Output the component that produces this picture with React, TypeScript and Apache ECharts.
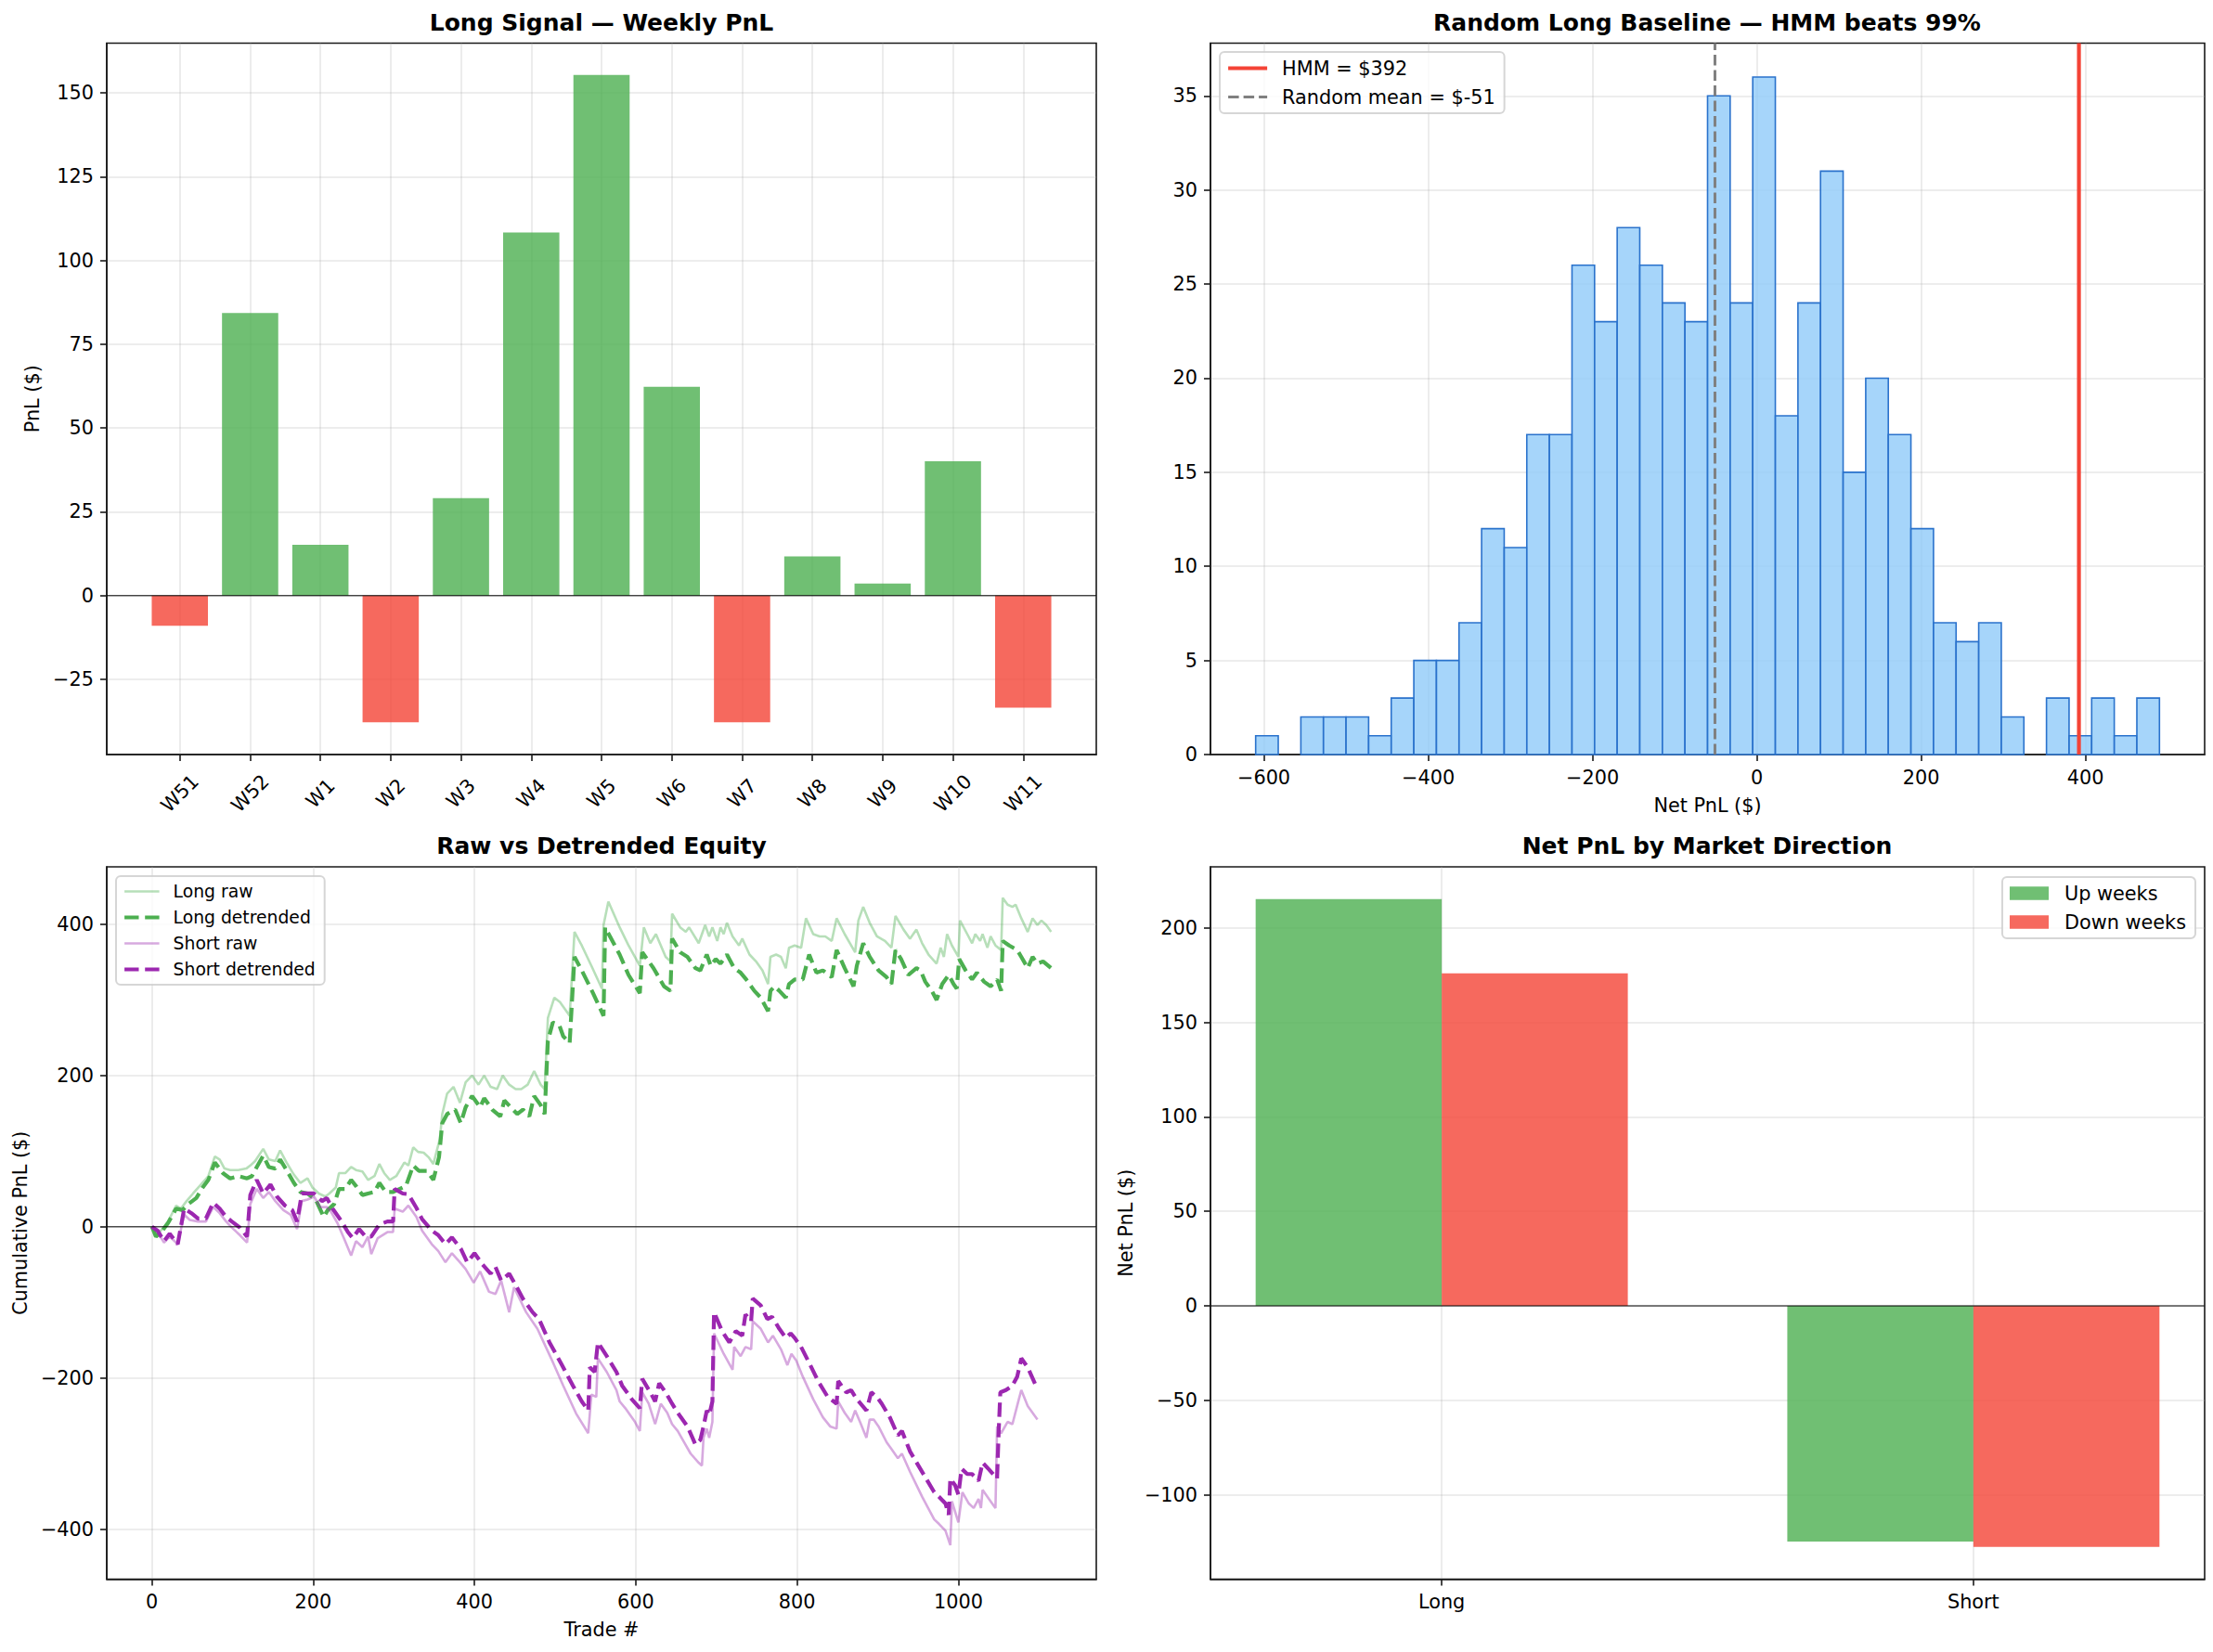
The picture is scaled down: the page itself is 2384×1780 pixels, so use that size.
import { useEffect, useRef } from 'react'
import * as echarts from 'echarts'

// ---- panel 1: weekly PnL of the long signal
const WEEKS = ['W51', 'W52', 'W1', 'W2', 'W3', 'W4', 'W5', 'W6', 'W7', 'W8', 'W9', 'W10', 'W11']
const WEEKLY_PNL = [-9, 84.3, 15.2, -37.8, 29.1, 108.3, 155.3, 62.3, -37.8, 11.7, 3.6, 40.1, -33.4]
const PNL_TICKS = [-25, 0, 25, 50, 75, 100, 125, 150]

// ---- panel 2: random long baseline histogram
const HIST_BIN_START = -610
const HIST_BIN_WIDTH = 27.5
const HIST_COUNTS = [
  1, 0, 2, 2, 2, 1, 3, 5, 5, 7, 12, 11, 17, 17, 26, 23, 28, 26, 24, 23,
  35, 24, 36, 18, 24, 31, 15, 20, 17, 12, 7, 6, 7, 2, 0, 3, 1, 3, 1, 3,
]
const HMM_PNL = 392
const RANDOM_MEAN = -51
const HIST_X_TICKS = [-600, -400, -200, 0, 200, 400]
const HIST_Y_TICKS = [0, 5, 10, 15, 20, 25, 30, 35]

// ---- panel 3: cumulative equity, [trade #, cumulative PnL]
const LONG_RAW: [number, number][] = [
  [0, 0], [5, -11], [13, -3], [20, 7], [30, 28], [36, 24], [43, 34], [51, 44], [61, 56], [70, 67],
  [78, 93], [84, 89], [90, 77], [97, 75], [107, 75], [117, 77], [122, 81], [128, 87], [138, 103], [145, 89],
  [153, 87], [159, 101], [167, 85], [176, 69], [184, 58], [193, 64], [199, 52], [207, 44], [215, 40], [220, 44],
  [228, 52], [232, 71], [240, 71], [247, 79], [253, 75], [261, 73], [268, 62], [276, 67], [282, 83], [288, 71],
  [295, 62], [303, 67], [313, 85], [318, 81], [324, 105], [330, 99], [337, 98], [343, 92], [349, 83], [357, 116],
  [360, 149], [366, 176], [374, 185], [382, 164], [389, 191], [397, 200], [405, 188], [412, 200], [420, 185], [428, 182],
  [435, 200], [443, 188], [451, 182], [458, 182], [466, 188], [474, 206], [482, 188], [487, 182], [491, 276], [499, 303],
  [506, 297], [518, 279], [524, 390], [533, 372], [545, 345], [558, 315], [560, 399], [566, 430], [580, 396], [591, 372],
  [605, 345], [610, 396], [618, 375], [625, 387], [637, 357], [643, 351], [645, 414], [655, 396], [662, 390], [666, 396],
  [678, 375], [686, 399], [691, 384], [695, 396], [701, 378], [705, 396], [709, 387], [713, 402], [720, 384], [728, 372],
  [732, 381], [741, 360], [749, 351], [757, 339], [764, 321], [767, 357], [774, 360], [780, 357], [786, 342], [790, 369],
  [797, 372], [805, 369], [811, 408], [820, 387], [828, 384], [835, 384], [843, 378], [849, 408], [859, 387], [872, 363],
  [876, 405], [882, 423], [890, 402], [899, 384], [909, 378], [917, 369], [922, 411], [932, 393], [940, 381], [944, 387],
  [948, 393], [955, 375], [963, 360], [973, 348], [978, 369], [982, 357], [986, 387], [992, 372], [1000, 357], [1002, 405],
  [1011, 387], [1017, 375], [1021, 387], [1027, 378], [1030, 387], [1036, 369], [1040, 384], [1046, 372], [1053, 366], [1055, 435],
  [1061, 426], [1067, 423], [1071, 426], [1078, 408], [1086, 390], [1092, 408], [1098, 399], [1103, 405], [1109, 399], [1115, 390],
]
const LONG_DETRENDED: [number, number][] = [
  [0, 0], [5, -13], [13, -5], [20, 5], [30, 24], [38, 22], [45, 30], [55, 38], [63, 52], [70, 62],
  [78, 85], [88, 71], [97, 64], [107, 67], [118, 64], [124, 67], [130, 79], [138, 94], [145, 79], [153, 77],
  [159, 89], [167, 75], [176, 58], [184, 46], [193, 44], [203, 36], [213, 13], [218, 22], [226, 30], [232, 50],
  [240, 50], [247, 62], [253, 54], [261, 42], [268, 44], [276, 46], [282, 58], [290, 46], [299, 46], [307, 50],
  [315, 54], [324, 81], [331, 74], [341, 74], [349, 62], [356, 92], [360, 137], [366, 149], [376, 155], [383, 137],
  [389, 158], [397, 173], [407, 158], [412, 170], [422, 155], [432, 146], [437, 167], [445, 158], [453, 149], [460, 155],
  [468, 146], [474, 173], [482, 161], [487, 149], [491, 246], [497, 270], [505, 267], [510, 252], [518, 243], [524, 357],
  [533, 339], [547, 309], [560, 279], [562, 396], [580, 360], [591, 333], [605, 309], [608, 363], [622, 342], [635, 318],
  [643, 312], [645, 381], [655, 363], [664, 357], [674, 342], [680, 339], [688, 360], [693, 345], [699, 354], [705, 348],
  [713, 360], [722, 342], [730, 336], [737, 327], [747, 312], [755, 303], [764, 285], [767, 312], [772, 318], [778, 312],
  [786, 303], [790, 321], [797, 327], [807, 327], [815, 360], [824, 336], [832, 339], [843, 330], [849, 366], [859, 342],
  [870, 318], [874, 345], [882, 375], [890, 357], [901, 339], [911, 330], [917, 321], [922, 366], [929, 354], [938, 333],
  [948, 342], [953, 339], [959, 324], [967, 312], [973, 300], [980, 321], [988, 333], [994, 321], [998, 315], [1001, 354],
  [1009, 339], [1017, 327], [1023, 336], [1032, 324], [1040, 318], [1048, 327], [1053, 312], [1055, 378], [1063, 372], [1073, 366],
  [1078, 357], [1086, 342], [1092, 357], [1098, 348], [1105, 351], [1115, 342],
]
const SHORT_RAW: [number, number][] = [
  [0, 0], [7, -7], [15, -21], [22, -13], [32, -23], [40, 16], [47, 9], [57, 7], [67, 7], [76, 26],
  [84, 18], [92, 7], [99, -1], [109, -11], [118, -21], [122, 30], [130, 50], [138, 38], [145, 46], [153, 34],
  [163, 22], [172, 16], [180, -3], [186, 34], [193, 36], [201, 40], [209, 26], [217, 26], [222, 20], [230, 5],
  [238, -15], [247, -38], [253, -19], [261, -27], [268, -13], [272, -36], [280, -15], [292, -7], [299, -7], [301, 24],
  [311, 20], [318, 28], [328, 13], [335, -5], [347, -23], [355, -32], [364, -47], [372, -35], [382, -47], [389, -56],
  [399, -74], [407, -59], [418, -86], [426, -89], [433, -71], [443, -113], [449, -80], [464, -113], [478, -135], [495, -174],
  [510, -210], [526, -247], [541, -273], [545, -222], [551, -225], [553, -174], [564, -192], [576, -216], [580, -231], [587, -240],
  [599, -258], [605, -270], [608, -219], [616, -234], [624, -261], [631, -234], [639, -246], [645, -261], [652, -270], [660, -285],
  [668, -300], [678, -312], [682, -316], [684, -279], [688, -267], [691, -279], [695, -258], [697, -141], [709, -168], [720, -189],
  [722, -159], [730, -171], [736, -159], [743, -162], [745, -125], [755, -135], [764, -153], [770, -144], [780, -162], [788, -183],
  [793, -168], [799, -177], [807, -198], [820, -228], [832, -252], [841, -264], [849, -267], [851, -231], [859, -246], [867, -258],
  [872, -243], [878, -258], [886, -279], [890, -255], [895, -255], [901, -264], [911, -285], [917, -294], [925, -306], [930, -300],
  [940, -324], [955, -357], [970, -387], [976, -393], [984, -402], [990, -421], [992, -363], [1000, -391], [1005, -351], [1013, -366],
  [1019, -372], [1025, -360], [1028, -372], [1030, -348], [1038, -360], [1046, -372], [1048, -264], [1053, -273], [1061, -258], [1067, -261],
  [1075, -228], [1078, -216], [1086, -237], [1098, -255],
]
const SHORT_DETRENDED: [number, number][] = [
  [0, 0], [7, -5], [15, -19], [22, -9], [32, -23], [40, 24], [49, 18], [57, 11], [67, 11], [76, 32],
  [84, 24], [92, 13], [99, 7], [109, -1], [118, -13], [122, 42], [130, 62], [138, 44], [147, 56], [155, 40],
  [165, 28], [174, 22], [180, 7], [186, 44], [193, 44], [201, 44], [211, 34], [217, 38], [224, 24], [234, 9],
  [243, -7], [249, -15], [257, -3], [265, -13], [272, -13], [282, 3], [292, 7], [299, 7], [301, 50], [311, 44],
  [318, 43], [328, 25], [335, 10], [347, -5], [355, -11], [364, -23], [372, -14], [383, -29], [391, -47], [400, -35],
  [410, -50], [420, -62], [426, -53], [433, -71], [443, -62], [451, -77], [460, -95], [472, -113], [480, -122], [493, -153],
  [507, -180], [522, -210], [533, -231], [541, -243], [543, -186], [549, -192], [553, -153], [564, -171], [576, -192], [583, -210],
  [595, -228], [605, -240], [608, -201], [618, -219], [624, -231], [629, -207], [637, -219], [645, -234], [652, -246], [664, -264],
  [674, -288], [680, -282], [684, -264], [688, -243], [691, -249], [695, -231], [697, -113], [707, -138], [716, -153], [724, -138],
  [732, -144], [736, -116], [743, -125], [745, -95], [755, -104], [763, -122], [769, -119], [778, -135], [786, -147], [792, -141],
  [797, -147], [805, -159], [815, -180], [826, -204], [838, -225], [849, -234], [851, -204], [861, -219], [867, -216], [874, -228],
  [886, -243], [892, -219], [899, -225], [905, -234], [915, -252], [925, -276], [930, -270], [940, -297], [955, -324], [970, -351],
  [976, -357], [984, -366], [988, -381], [990, -333], [996, -342], [1000, -354], [1004, -320], [1011, -327], [1017, -327], [1025, -336],
  [1030, -312], [1038, -321], [1048, -333], [1050, -270], [1052, -219], [1059, -216], [1067, -210], [1073, -198], [1078, -174], [1086, -186],
  [1096, -210],
]
const EQUITY_X_TICKS = [0, 200, 400, 600, 800, 1000]
const EQUITY_Y_TICKS = [-400, -200, 0, 200, 400]

// ---- panel 4: net PnL by market direction
const DIRECTIONS = ['Long', 'Short']
const UP_WEEKS_PNL = [215.2, -124.7]
const DOWN_WEEKS_PNL = [176, -127.5]
const DIR_Y_TICKS = [-100, -50, 0, 50, 100, 150, 200]

const FONT = 'DejaVu Sans'
const GREEN = 'rgba(76,175,80,0.8)'
const RED = 'rgba(244,67,54,0.8)'
const GRID_LINE = 'rgba(176,176,176,0.3)'
const SPINE = '#1a1a1a'
const TICK_FS = 20.8

const fmt = (v: number) => (v < 0 ? '\u2212' + Math.abs(v) : String(v))

function valueAxis(gridIndex: number, min: number, max: number, ticks: number[], extra: any = {}) {
  const { axisLabel, ...rest } = extra
  return {
    type: 'value',
    gridIndex,
    min,
    max,
    axisLine: { show: true, onZero: false, lineStyle: { color: SPINE, width: 1.6 } },
    axisTick: { show: true, length: 7, customValues: ticks, lineStyle: { color: SPINE, width: 1.6 } },
    axisLabel: {
      customValues: ticks,
      formatter: fmt,
      fontSize: TICK_FS,
      fontFamily: FONT,
      color: '#000',
      margin: 14,
      ...(axisLabel || {}),
    },
    splitLine: { show: true, lineStyle: { color: GRID_LINE, width: 1.6 } },
    nameTextStyle: { fontSize: TICK_FS, fontFamily: FONT, color: '#000' },
    ...rest,
  }
}

function grid(left: number, top: number, width: number, height: number) {
  return { left, top, width, height, show: true, borderColor: SPINE, borderWidth: 1.6, backgroundColor: 'transparent' }
}

function title(text: string, cx: number, top: number) {
  return {
    text,
    left: cx,
    top,
    textAlign: 'center',
    padding: 0,
    textStyle: { fontSize: 25, fontWeight: 'bold', fontFamily: FONT, color: '#000' },
  }
}

const legendBox = {
  orient: 'vertical',
  backgroundColor: 'rgba(255,255,255,0.8)',
  borderColor: 'rgba(204,204,204,0.8)',
  borderWidth: 2,
  borderRadius: 5,
  selectedMode: false,
}

// axis extents (matplotlib default 5% margins)
const X1 = [-1.04, 13.04]
const Y1 = [-47.4, 164.8]
const X2 = [-665, 545]
const Y2 = [0, 37.8]
const X3 = [-56, 1171]
const Y3 = [-466, 476]
const X4 = [-0.435, 1.435]
const Y4 = [-144.6, 232.3]

function rectBetween(api: any, xa: number, xb: number, y: number) {
  const p0 = api.coord([xa, y])
  const p1 = api.coord([xb, 0])
  return {
    x: p0[0],
    y: Math.min(p0[1], p1[1]),
    width: p1[0] - p0[0],
    height: Math.abs(p1[1] - p0[1]),
  }
}

function buildOption(): any {
  const histData = HIST_COUNTS.map((c, i) => [HIST_BIN_START + i * HIST_BIN_WIDTH, HIST_BIN_START + (i + 1) * HIST_BIN_WIDTH, c]).filter(
    (d) => d[2] > 0,
  )

  const dirBars = (values: number[], offset: number, color: string, name: string) => ({
    type: 'custom',
    name,
    xAxisIndex: 3,
    yAxisIndex: 3,
    data: values.map((v, i) => [i, v]),
    itemStyle: { color },
    renderItem: (_p: any, api: any) => {
      const x = api.value(0) + offset
      return {
        type: 'rect',
        shape: rectBetween(api, x - 0.175, x + 0.175, api.value(1)),
        style: { fill: color },
      }
    },
  })

  return {
    animation: false,
    textStyle: { fontFamily: FONT },
    title: [
      title('Long Signal \u2014 Weekly PnL', 648, 12),
      title('Random Long Baseline \u2014 HMM beats 99%', 1839, 12),
      title('Raw vs Detrended Equity', 648, 899),
      title('Net PnL by Market Direction', 1839, 899),
    ],
    grid: [
      grid(115, 46.5, 1066, 766.5),
      grid(1304, 46.5, 1071, 766.5),
      grid(115, 934, 1066, 767.5),
      grid(1304, 934, 1071, 767.5),
    ],
    xAxis: [
      valueAxis(0, X1[0], X1[1], WEEKS.map((_, i) => i), {
        axisLabel: {
          formatter: (v: number) => WEEKS[Math.round(v)] ?? '',
          rotate: 45,
          align: 'center',
          verticalAlign: 'middle',
          margin: 42,
        },
      }),
      valueAxis(1, X2[0], X2[1], HIST_X_TICKS, {
        name: 'Net PnL ($)',
        nameLocation: 'middle',
        nameGap: 44,
      }),
      valueAxis(2, X3[0], X3[1], EQUITY_X_TICKS, {
        name: 'Trade #',
        nameLocation: 'middle',
        nameGap: 44,
      }),
      valueAxis(3, X4[0], X4[1], [0, 1], {
        axisLabel: { formatter: (v: number) => DIRECTIONS[Math.round(v)] ?? '' },
      }),
    ],
    yAxis: [
      valueAxis(0, Y1[0], Y1[1], PNL_TICKS, { name: 'PnL ($)', nameLocation: 'middle', nameGap: 70 }),
      valueAxis(1, Y2[0], Y2[1], HIST_Y_TICKS),
      valueAxis(2, Y3[0], Y3[1], EQUITY_Y_TICKS, { name: 'Cumulative PnL ($)', nameLocation: 'middle', nameGap: 83 }),
      valueAxis(3, Y4[0], Y4[1], DIR_Y_TICKS, { name: 'Net PnL ($)', nameLocation: 'middle', nameGap: 81 }),
    ],
    legend: [
      {
        ...legendBox,
        data: [`HMM = $${HMM_PNL}`, `Random mean = $${RANDOM_MEAN}`],
        left: 1314,
        top: 56,
        padding: [7, 10, 7, 7],
        itemWidth: 42,
        itemHeight: 14,
        itemGap: 10,
        itemStyle: { opacity: 0 },
        lineStyle: { width: 'inherit' },
        textStyle: { fontSize: TICK_FS, fontFamily: FONT, color: '#000', padding: [0, 0, 0, 11] },
      },
      {
        ...legendBox,
        data: ['Long raw', 'Long detrended', 'Short raw', 'Short detrended'],
        left: 125,
        top: 944,
        padding: [7, 10, 7, 7],
        itemWidth: 37.5,
        itemHeight: 12,
        itemGap: 9,
        itemStyle: { opacity: 0 },
        lineStyle: { width: 'inherit' },
        textStyle: { fontSize: 18.75, fontFamily: FONT, color: '#000', padding: [0, 0, 0, 10] },
      },
      {
        ...legendBox,
        data: ['Up weeks', 'Down weeks'],
        right: 19,
        top: 945,
        padding: [7, 10, 7, 8],
        icon: 'rect',
        itemWidth: 42,
        itemHeight: 14.6,
        itemGap: 10,
        textStyle: { fontSize: TICK_FS, fontFamily: FONT, color: '#000', padding: [0, 0, 0, 12] },
      },
    ],
    series: [
      // panel 1
      {
        type: 'custom',
        xAxisIndex: 0,
        yAxisIndex: 0,
        data: WEEKLY_PNL.map((v, i) => [i, v]),
        renderItem: (_p: any, api: any) => {
          const x = api.value(0)
          const y = api.value(1)
          return { type: 'rect', shape: rectBetween(api, x - 0.4, x + 0.4, y), style: { fill: y >= 0 ? GREEN : RED } }
        },
      },
      {
        type: 'line',
        xAxisIndex: 0,
        yAxisIndex: 0,
        data: [[X1[0], 0], [X1[1], 0]],
        symbol: 'none',
        silent: true,
        z: 5,
        lineStyle: { color: '#000', width: 1 },
      },
      // panel 2
      {
        type: 'custom',
        xAxisIndex: 1,
        yAxisIndex: 1,
        data: histData,
        renderItem: (_p: any, api: any) => ({
          type: 'rect',
          shape: rectBetween(api, api.value(0), api.value(1), api.value(2)),
          style: { fill: 'rgba(144,202,249,0.8)', stroke: '#2a72cc', lineWidth: 1.6 },
        }),
      },
      {
        type: 'line',
        name: `HMM = $${HMM_PNL}`,
        xAxisIndex: 1,
        yAxisIndex: 1,
        data: [[HMM_PNL, Y2[0]], [HMM_PNL, Y2[1]]],
        symbol: 'none',
        z: 5,
        itemStyle: { color: '#f44336' },
        lineStyle: { color: '#f44336', width: 4.2 },
      },
      {
        type: 'line',
        name: `Random mean = $${RANDOM_MEAN}`,
        xAxisIndex: 1,
        yAxisIndex: 1,
        data: [[RANDOM_MEAN, Y2[0]], [RANDOM_MEAN, Y2[1]]],
        symbol: 'none',
        z: 5,
        itemStyle: { color: '#808080' },
        lineStyle: { color: '#808080', width: 3, type: [11.5, 5] },
      },
      // panel 3
      {
        type: 'line',
        name: 'Long raw',
        xAxisIndex: 2,
        yAxisIndex: 2,
        data: LONG_RAW,
        symbol: 'none',
        itemStyle: { color: 'rgba(76,175,80,0.4)' },
        lineStyle: { color: 'rgba(76,175,80,0.4)', width: 2.6 },
      },
      {
        type: 'line',
        name: 'Long detrended',
        xAxisIndex: 2,
        yAxisIndex: 2,
        data: LONG_DETRENDED,
        symbol: 'none',
        itemStyle: { color: '#4caf50' },
        lineStyle: { color: '#4caf50', width: 4.2, type: [15.4, 6.7] },
      },
      {
        type: 'line',
        name: 'Short raw',
        xAxisIndex: 2,
        yAxisIndex: 2,
        data: SHORT_RAW,
        symbol: 'none',
        itemStyle: { color: 'rgba(156,39,176,0.4)' },
        lineStyle: { color: 'rgba(156,39,176,0.4)', width: 2.6 },
      },
      {
        type: 'line',
        name: 'Short detrended',
        xAxisIndex: 2,
        yAxisIndex: 2,
        data: SHORT_DETRENDED,
        symbol: 'none',
        itemStyle: { color: '#9c27b0' },
        lineStyle: { color: '#9c27b0', width: 4.2, type: [15.4, 6.7] },
      },
      {
        type: 'line',
        xAxisIndex: 2,
        yAxisIndex: 2,
        data: [[X3[0], 0], [X3[1], 0]],
        symbol: 'none',
        silent: true,
        z: 5,
        lineStyle: { color: '#000', width: 1 },
      },
      // panel 4
      dirBars(UP_WEEKS_PNL, -0.175, GREEN, 'Up weeks'),
      dirBars(DOWN_WEEKS_PNL, 0.175, RED, 'Down weeks'),
      {
        type: 'line',
        xAxisIndex: 3,
        yAxisIndex: 3,
        data: [[X4[0], 0], [X4[1], 0]],
        symbol: 'none',
        silent: true,
        z: 5,
        lineStyle: { color: '#000', width: 1 },
      },
    ],
  }
}

export default function App() {
  const chartRef = useRef<HTMLDivElement>(null)

  useEffect(() => {
    document.body.style.margin = '0'
    if (!chartRef.current) return
    const chart = echarts.init(chartRef.current, null, { renderer: 'svg' })
    chart.setOption(buildOption())
    return () => chart.dispose()
  }, [])

  return <div ref={chartRef} style={{ width: 2384, height: 1780 }} />
}
